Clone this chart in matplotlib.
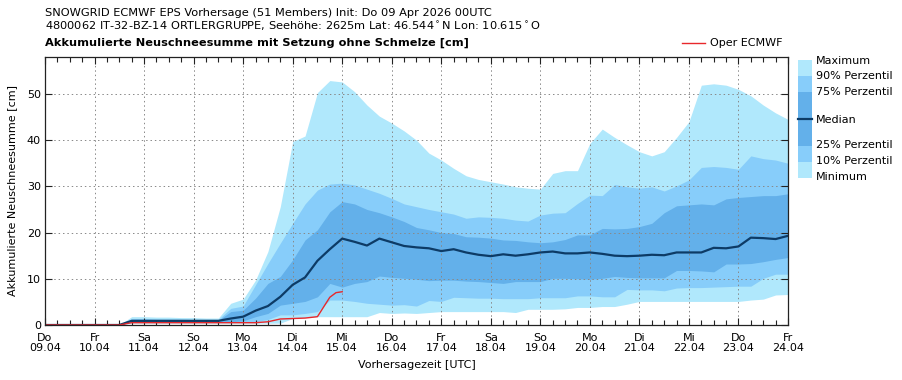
import numpy as np
import matplotlib
matplotlib.use("Agg")
import matplotlib.pyplot as plt
from matplotlib.patches import Rectangle
from matplotlib.ticker import MultipleLocator, FixedLocator

# 6-hourly steps from Do 09.04 00UTC
steps = np.arange(61) * 6 / 24.0

day_names = ["Do", "Fr", "Sa", "So", "Mo", "Di", "Mi", "Do",
             "Fr", "Sa", "So", "Mo", "Di", "Mi", "Do", "Fr"]
day_dates = ["09.04", "10.04", "11.04", "12.04", "13.04", "14.04", "15.04", "16.04",
             "17.04", "18.04", "19.04", "20.04", "21.04", "22.04", "23.04", "24.04"]

p_max = [0, 0, 0, 0, 0, 0, 0, 1.8, 1.8, 1.7, 1.7, 1.6, 1.6, 1.5, 1.5, 4.7,
         5.6, 9.7, 15.9, 25.6, 39.7, 40.9, 50.3, 52.9, 52.6, 50.5, 47.6, 45.2, 43.7, 42.0,
         40.0, 37.2, 35.7, 33.9, 32.3, 31.5, 31.0, 30.5, 29.9, 29.6, 29.4, 32.8, 33.4, 33.4,
         39.3, 42.4, 40.6, 39.0, 37.5, 36.6, 37.5, 40.6, 44.0, 51.9, 52.2, 51.9, 51.0, 49.6,
         47.6, 45.9, 44.5]
p90 = [0, 0, 0, 0, 0, 0, 0, 1.4, 1.4, 1.3, 1.3, 1.3, 1.2, 1.2, 1.2, 3.6,
       4.1, 8.7, 13.3, 17.7, 22.0, 26.2, 29.2, 30.5, 30.7, 30.3, 29.4, 28.5, 27.4, 26.2,
       25.6, 25.0, 24.5, 24.0, 23.1, 23.4, 23.3, 23.1, 22.7, 22.5, 23.8, 24.2, 24.3, 26.3,
       28.1, 28.0, 30.4, 29.9, 29.6, 29.9, 29.0, 30.1, 31.4, 34.1, 34.3, 34.1, 33.7, 36.6,
       36.0, 35.7, 35.0]
p75 = [0, 0, 0, 0, 0, 0, 0, 1.1, 1.1, 1.1, 1.1, 1.0, 1.0, 1.0, 1.0, 2.9,
       3.2, 5.8, 9.0, 10.5, 14.1, 18.4, 20.6, 24.5, 26.7, 26.2, 25.0, 24.3, 23.4, 22.4,
       21.1, 20.6, 20.0, 19.8, 19.1, 19.0, 18.8, 18.4, 18.3, 18.0, 17.8, 18.0, 18.5, 19.5,
       19.5, 20.9, 20.8, 20.9, 21.3, 22.0, 24.3, 25.8, 26.0, 26.2, 26.0, 27.3, 27.6, 27.8,
       28.0, 28.0, 28.4]
median = [0, 0, 0, 0, 0, 0, 0, 0.9, 0.9, 0.9, 0.9, 0.9, 0.9, 0.9, 0.9, 1.4,
          1.8, 3.1, 4.1, 6.1, 8.7, 10.3, 13.9, 16.4, 18.7, 18.0, 17.2, 18.7, 17.9, 17.1,
          16.8, 16.6, 16.0, 16.4, 15.7, 15.2, 14.9, 15.3, 15.0, 15.3, 15.7, 15.9, 15.5, 15.5,
          15.7, 15.4, 15.0, 14.9, 15.0, 15.2, 15.1, 15.7, 15.7, 15.7, 16.7, 16.6, 17.0, 18.9,
          18.8, 18.6, 19.3]
p25 = [0, 0, 0, 0, 0, 0, 0, 0.7, 0.7, 0.7, 0.7, 0.7, 0.7, 0.7, 0.7, 0.7,
       0.9, 1.8, 2.5, 4.3, 4.7, 5.1, 6.1, 9.0, 8.2, 9.0, 9.4, 10.6, 10.3, 10.1,
       9.9, 9.6, 9.7, 9.7, 9.5, 9.4, 9.2, 9.0, 9.4, 9.4, 9.4, 10.1, 10.1, 10.0,
       9.9, 10.1, 10.5, 10.3, 10.2, 10.2, 10.2, 11.8, 11.8, 11.7, 11.5, 13.2, 13.2, 13.3,
       13.7, 14.2, 14.6]
p10 = [0, 0, 0, 0, 0, 0, 0, 0.6, 0.6, 0.6, 0.6, 0.6, 0.6, 0.6, 0.6, 0.6,
       0.6, 0.7, 1.2, 2.2, 2.2, 2.5, 2.9, 5.4, 5.4, 5.1, 4.7, 4.5, 4.3, 4.4,
       4.1, 5.3, 5.1, 6.0, 5.9, 5.8, 5.8, 5.7, 5.7, 5.7, 5.9, 5.9, 5.9, 6.3,
       6.3, 6.1, 6.1, 7.7, 7.6, 7.6, 7.4, 8.0, 8.1, 8.1, 8.2, 8.3, 8.4, 8.4,
       10.1, 11.0, 11.0]
p_min = [0, 0, 0, 0, 0, 0, 0, 0.4, 0.4, 0.4, 0.4, 0.4, 0.4, 0.4, 0.4, 0.4,
         0.4, 0.4, 0.4, 0.4, 1.4, 1.6, 1.8, 1.8, 1.8, 1.8, 1.8, 2.7, 2.5, 2.6,
         2.5, 2.7, 2.9, 2.9, 2.9, 2.9, 2.9, 2.9, 2.7, 3.4, 3.4, 3.4, 3.5, 3.8,
         3.8, 4.0, 4.0, 4.5, 5.1, 5.1, 5.1, 5.1, 5.1, 5.1, 5.1, 5.1, 5.1, 5.4,
         5.6, 6.5, 6.6]

oper_hours = [0, 6, 12, 18, 24, 30, 36, 42, 48, 54, 60, 66, 72, 78, 84, 90, 96, 102,
              108, 114, 120, 126, 132, 138, 141, 144]
oper = [0, 0, 0, 0, 0, 0, 0, 0.5, 0.5, 0.5, 0.5, 0.5, 0.5, 0.5, 0.5, 0.5, 0.5, 0.5,
        0.7, 1.3, 1.4, 1.5, 1.8, 6.0, 7.0, 7.2]

c_light = "#b0e8fc"
c_mid = "#87cdfa"
c_dark = "#63b0ea"
c_med = "#0d3b66"
c_red = "#e8282b"

plt.rcParams["font.family"] = "DejaVu Sans"
plt.rcParams["font.size"] = 8

W, H = 903, 380
fig = plt.figure(figsize=(W / 100, H / 100), dpi=100)
ax = fig.add_axes([45 / W, 55 / H, 743 / W, 268 / H])

ax.fill_between(steps, p_min, p_max, color=c_light, lw=0)
ax.fill_between(steps, p10, p90, color=c_mid, lw=0)
ax.fill_between(steps, p25, p75, color=c_dark, lw=0)
ax.plot(steps, median, color=c_med, lw=1.6)
ax.plot(np.array(oper_hours) / 24.0, oper, color=c_red, lw=1.0)

ax.set_xlim(0, 15)
ax.set_ylim(0, 58)
ax.xaxis.set_major_locator(FixedLocator(range(16)))
ax.xaxis.set_minor_locator(MultipleLocator(0.25))
ax.set_xticklabels([n + "\n" + d for n, d in zip(day_names, day_dates)], linespacing=1.0)
ax.yaxis.set_major_locator(MultipleLocator(10))
ax.tick_params(which="both", direction="in", top=True, right=True, colors="#222222",
               labelcolor="black")
ax.tick_params(which="major", length=5, width=0.8, pad=3)
ax.tick_params(axis="x", which="major", pad=6)
ax.tick_params(which="minor", length=3.5, width=0.8)
ax.grid(True, which="major", color="#888888", linestyle=(0, (1.5, 3)), lw=0.7)
for s in ax.spines.values():
    s.set_linewidth(0.9)
    s.set_color("#222222")

ax.set_xlabel("Vorhersagezeit [UTC]", labelpad=5)
ax.set_ylabel("Akkumulierte Neuschneesumme [cm]", labelpad=7)

fig.text(45 / W, 1 - 13 / H, "SNOWGRID ECMWF EPS Vorhersage (51 Members) Init: Do 09 Apr 2026 00UTC",
         va="center", ha="left", fontsize=8.2)
fig.text(45 / W, 1 - 26 / H,
         "4800062 IT-32-BZ-14 ORTLERGRUPPE, Seehöhe: 2625m Lat: 46.544$^\\circ$N Lon: 10.615$^\\circ$O",
         va="center", ha="left", fontsize=8.2)
fig.text(45 / W, 1 - 43 / H, "Akkumulierte Neuschneesumme mit Setzung ohne Schmelze [cm]",
         va="center", ha="left", fontweight="bold", fontsize=8.2)

# overlay in pixel coordinates for the legends
lax = fig.add_axes([0, 0, 1, 1])
lax.set_xlim(0, W)
lax.set_ylim(H, 0)
lax.axis("off")
lax.plot([682, 705], [43, 43], color=c_red, lw=1.0)
lax.text(710, 43, "Oper ECMWF", va="center", ha="left")

legend_rows = [(60, 76, c_light), (76, 92, c_mid), (92, 146, c_dark),
               (146, 162, c_mid), (162, 178, c_light)]
for y0, y1, c in legend_rows:
    lax.add_patch(Rectangle((798, y0), 14, y1 - y0, color=c, lw=0))
lax.plot([798, 812], [119, 119], color=c_med, lw=1.6)
legend_labels = [("Maximum", 61), ("90% Perzentil", 76), ("75% Perzentil", 92),
                 ("Median", 120), ("25% Perzentil", 145), ("10% Perzentil", 161),
                 ("Minimum", 177)]
for lab, y in legend_labels:
    lax.text(816, y, lab, va="center", ha="left")

fig.savefig("out.png", dpi=100)
